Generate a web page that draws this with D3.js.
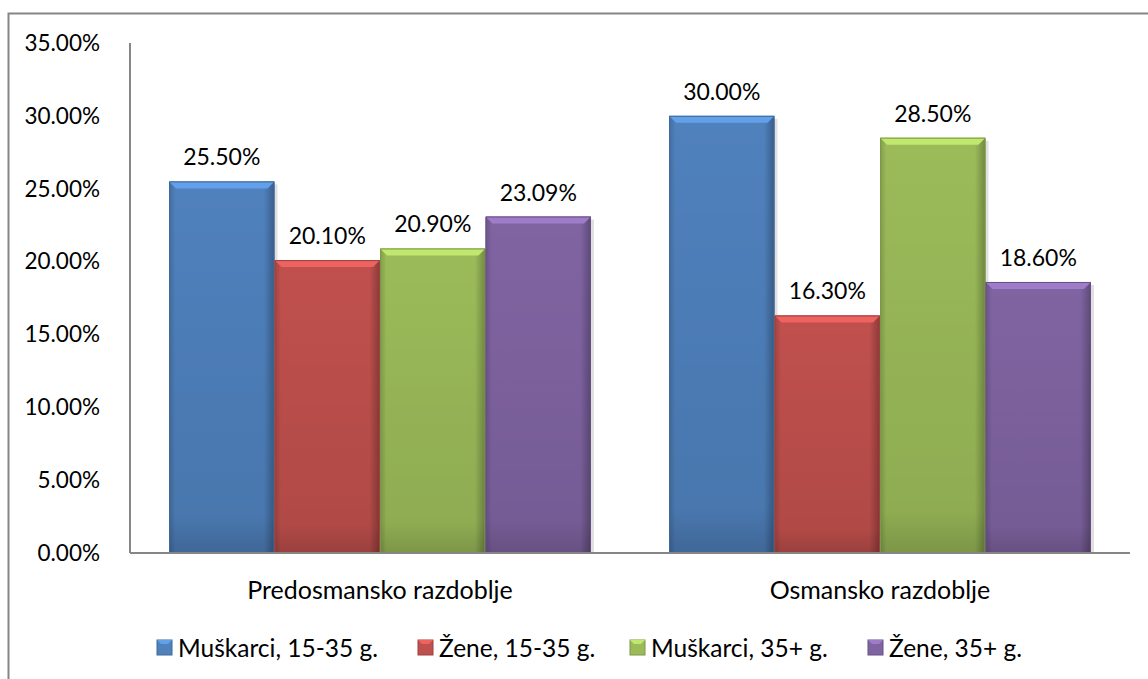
<!DOCTYPE html>
<html>
<head>
<meta charset="utf-8">
<script src="https://cdn.jsdelivr.net/npm/d3@7"></script>
<style>
body { margin: 0; background: #fff; }
text { font-family: Lato, "Open Sans", sans-serif; fill: #000; }
</style>
</head>
<body>
<svg id="chart" width="1148" height="679"></svg>
<script>
var categories = ["Predosmansko razdoblje", "Osmansko razdoblje"];
var seriesNames = ["Muškarci, 15-35 g.", "Žene, 15-35 g.", "Muškarci, 35+ g.", "Žene, 35+ g."];
var muskarci1535 = [25.50, 30.00];
var zene1535 = [20.10, 16.30];
var muskarci35 = [20.90, 28.50];
var zene35 = [23.09, 18.60];
var yTicks = [0, 5, 10, 15, 20, 25, 30, 35];
var colors = ["#4F81BD", "#C0504D", "#9BBB59", "#8064A2"];

var seriesValues = [muskarci1535, zene1535, muskarci35, zene35];

var margin = {top: 43, left: 130},
    width = 1000,
    height = 510;

var svg = d3.select("#chart");

// outer chart border
svg.append("rect")
    .attr("x", 8.5).attr("y", 13.5)
    .attr("width", 1200).attr("height", 700)
    .attr("fill", "none")
    .attr("stroke", "#868686")
    .attr("stroke-width", 2);

var defs = svg.append("defs");
colors.forEach(function(c, i) {
    var g = defs.append("linearGradient").attr("id", "grad" + i)
        .attr("x1", "0").attr("x2", "1").attr("y1", "0").attr("y2", "0");
    var base = d3.rgb(c);
    g.append("stop").attr("offset", "0").attr("stop-color", base.darker(0.5));
    g.append("stop").attr("offset", "0.06").attr("stop-color", base);
    g.append("stop").attr("offset", "0.9").attr("stop-color", base);
    g.append("stop").attr("offset", "1").attr("stop-color", base.darker(0.9));
    var v = defs.append("linearGradient").attr("id", "vgrad" + i)
        .attr("x1", "0").attr("x2", "0").attr("y1", "0").attr("y2", "1");
    v.append("stop").attr("offset", "0").attr("stop-color", "#000").attr("stop-opacity", 0);
    v.append("stop").attr("offset", "0.9").attr("stop-color", "#000").attr("stop-opacity", 0.08);
    v.append("stop").attr("offset", "1").attr("stop-color", "#000").attr("stop-opacity", 0.2);
});

var g = svg.append("g").attr("transform", "translate(" + margin.left + "," + margin.top + ")");

var x0 = d3.scaleBand().domain(categories).range([0, width]).paddingInner(0).paddingOuter(0);
var x1 = d3.scaleBand().domain(d3.range(seriesNames.length)).range([39, x0.bandwidth() - 39]);
var y = d3.scaleLinear().domain([0, 35]).range([height, 0]);

// y axis labels
g.selectAll(".ytick").data(yTicks).enter().append("text")
    .attr("class", "ytick")
    .attr("x", -30)
    .attr("y", function(d) { return y(d); })
    .attr("dy", "0.35em")
    .attr("text-anchor", "end")
    .style("font-size", "22.5px")
    .text(function(d) { return d.toFixed(2) + "%"; });

var slice = g.selectAll(".slice").data(categories).enter().append("g")
    .attr("class", "slice")
    .attr("transform", function(d) { return "translate(" + x0(d) + ",0)"; });

var bars = slice.selectAll(".bar")
    .data(function(d, ci) { return seriesValues.map(function(s, si) { return {s: si, v: s[ci]}; }); })
    .enter().append("g").attr("class", "bar");

var bw = x1.bandwidth();
// shadow
bars.append("rect")
    .attr("x", function(d) { return x1(d.s) + 3; })
    .attr("y", function(d) { return y(d.v) + 3; })
    .attr("width", bw)
    .attr("height", function(d) { return height - y(d.v) - 3; })
    .attr("fill", "#000").attr("opacity", 0.12);
bars.append("rect")
    .attr("x", function(d) { return x1(d.s); })
    .attr("y", function(d) { return y(d.v); })
    .attr("width", bw)
    .attr("height", function(d) { return height - y(d.v); })
    .attr("fill", function(d) { return "url(#grad" + d.s + ")"; });
bars.append("rect")
    .attr("x", function(d) { return x1(d.s); })
    .attr("y", function(d) { return y(d.v); })
    .attr("width", bw)
    .attr("height", function(d) { return height - y(d.v); })
    .attr("fill", function(d) { return "url(#vgrad" + d.s + ")"; });
// top bevel
bars.append("path")
    .attr("d", function(d) {
        var x = x1(d.s), t = y(d.v), b = 7;
        return "M" + x + "," + t + "L" + (x + bw) + "," + t + "L" + (x + bw - b) + "," + (t + b) + "L" + (x + b) + "," + (t + b) + "Z";
    })
    .attr("fill", function(d) { return d3.rgb(colors[d.s]).brighter(0.6); });
bars.append("path")
    .attr("d", function(d) {
        var x = x1(d.s), t = y(d.v);
        return "M" + (x + 0.5) + "," + (height) + "V" + (t + 0.5) + "H" + (x + bw - 0.5) + "V" + height;
    })
    .attr("fill", "none")
    .attr("stroke", function(d) { return d3.rgb(colors[d.s]).darker(0.6); })
    .attr("stroke-width", 1);

// value labels
bars.append("text")
    .attr("x", function(d) { return x1(d.s) + bw / 2; })
    .attr("y", function(d) { return y(d.v) - 16; })
    .attr("text-anchor", "middle")
    .style("font-size", "23px")
    .text(function(d) { return d.v.toFixed(2) + "%"; });

// axes lines
g.append("line").attr("x1", 0).attr("x2", 0).attr("y1", 0).attr("y2", height)
    .attr("stroke", "#868686").attr("stroke-width", 2);
g.append("line").attr("x1", 0).attr("x2", width).attr("y1", height).attr("y2", height)
    .attr("stroke", "#868686").attr("stroke-width", 2);

// category labels
g.selectAll(".xlab").data(categories).enter().append("text")
    .attr("x", function(d) { return x0(d) + x0.bandwidth() / 2; })
    .attr("y", height + 46)
    .attr("text-anchor", "middle")
    .style("font-size", "25px")
    .text(function(d) { return d; });

// legend
var legendX = [157, 418, 630, 868];
var legend = svg.selectAll(".legend").data(seriesNames).enter().append("g")
    .attr("class", "legend")
    .attr("transform", function(d, i) { return "translate(" + legendX[i] + ",640)"; });
legend.append("rect")
    .attr("width", 15).attr("height", 15)
    .attr("fill", function(d, i) { return colors[i]; })
    .attr("stroke", function(d, i) { return d3.rgb(colors[i]).darker(0.6); });
legend.append("path")
    .attr("d", "M0,0H15L11,4H4Z")
    .attr("fill", function(d, i) { return d3.rgb(colors[i]).brighter(0.6); });
legend.append("text")
    .attr("x", 21).attr("y", 8)
    .attr("dy", "0.35em")
    .style("font-size", "24.5px")
    .text(function(d) { return d; });
</script>
</body>
</html>
